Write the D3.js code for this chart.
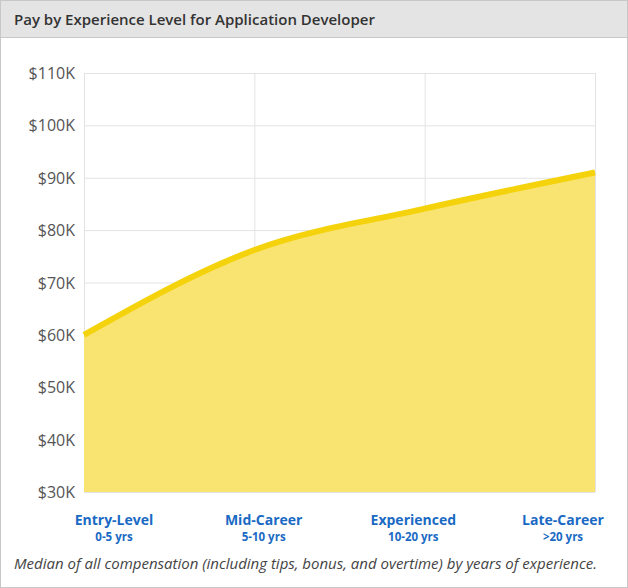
<!DOCTYPE html>
<html><head><meta charset="utf-8">
<script src="https://cdn.jsdelivr.net/npm/d3@7"></script>
<style>
body{margin:0;background:#fff;font-family:"Open Sans",sans-serif;}
</style></head><body>
<svg id="chart" width="628" height="588"></svg>
<script>
const categories = ['Entry-Level', 'Mid-Career', 'Experienced', 'Late-Career'];
const ranges = ['0-5 yrs', '5-10 yrs', '10-20 yrs', '>20 yrs'];
const pay = [60000, 76200, 84100, 91000];
const yTicks = [30000, 40000, 50000, 60000, 70000, 80000, 90000, 100000, 110000];

const svg = d3.select('#chart');
svg.append('rect').attr('x', 0.5).attr('y', 0.5).attr('width', 627).attr('height', 587)
  .attr('fill', '#fff').attr('stroke', '#c8c8c8');
svg.append('rect').attr('x', 1).attr('y', 1).attr('width', 626).attr('height', 36).attr('fill', '#e4e4e4');
svg.append('line').attr('x1', 1).attr('x2', 627).attr('y1', 37.5).attr('y2', 37.5).attr('stroke', '#c8c8c8');
svg.append('text').attr('x', 14).attr('y', 25).attr('font-size', 15).attr('font-weight', 600)
  .attr('fill', '#333').text('Pay by Experience Level for Application Developer');

const x = d3.scalePoint().domain(categories).range([84, 595]);
const y = d3.scaleLinear().domain([30000, 110000]).range([492, 73]);

// grid
svg.append('g').selectAll('line').data(yTicks).enter().append('line')
  .attr('x1', 84).attr('x2', 595).attr('y1', d => y(d) + 0.5).attr('y2', d => y(d) + 0.5)
  .attr('stroke', '#e3e3e3');
svg.append('g').selectAll('line').data(categories).enter().append('line')
  .attr('x1', d => x(d) + 0.5).attr('x2', d => x(d) + 0.5).attr('y1', 73).attr('y2', 492)
  .attr('stroke', '#e3e3e3');

const pts = categories.map((c, i) => [x(c), y(pay[i])]);
const area = d3.area().x(d => d[0]).y0(492).y1(d => d[1]).curve(d3.curveMonotoneX);
const line = d3.line().x(d => d[0]).y(d => d[1]).curve(d3.curveMonotoneX);
svg.append('path').attr('d', area(pts)).attr('fill', '#f9e36a').attr('opacity', 0.95);
svg.append('path').attr('d', line(pts)).attr('fill', 'none').attr('stroke', '#f4d30c').attr('stroke-width', 6);

// y labels
svg.append('g').selectAll('text').data(yTicks).enter().append('text')
  .attr('x', 75).attr('y', d => y(d) + 6).attr('text-anchor', 'end')
  .attr('font-size', 16).attr('fill', '#555').text(d => '$' + d / 1000 + 'K');

// x labels
const xl = d3.scalePoint().domain(categories).range([114, 563]);
const g = svg.append('g').selectAll('g').data(categories).enter().append('g');
g.append('text').attr('x', d => xl(d)).attr('y', 525).attr('text-anchor', 'middle')
  .attr('font-size', 14).attr('font-weight', 700).attr('fill', '#1a6ac4').text(d => d);
g.append('text').attr('x', d => xl(d)).attr('y', 541).attr('text-anchor', 'middle')
  .attr('font-size', 11.5).attr('font-weight', 700).attr('fill', '#1a6ac4').text((d, i) => ranges[i]);

svg.append('text').attr('x', 14).attr('y', 569).attr('font-size', 15).attr('font-style', 'italic')
  .attr('textLength', 583).attr('lengthAdjust', 'spacingAndGlyphs')
  .attr('fill', '#444').text('Median of all compensation (including tips, bonus, and overtime) by years of experience.');
</script></body></html>
